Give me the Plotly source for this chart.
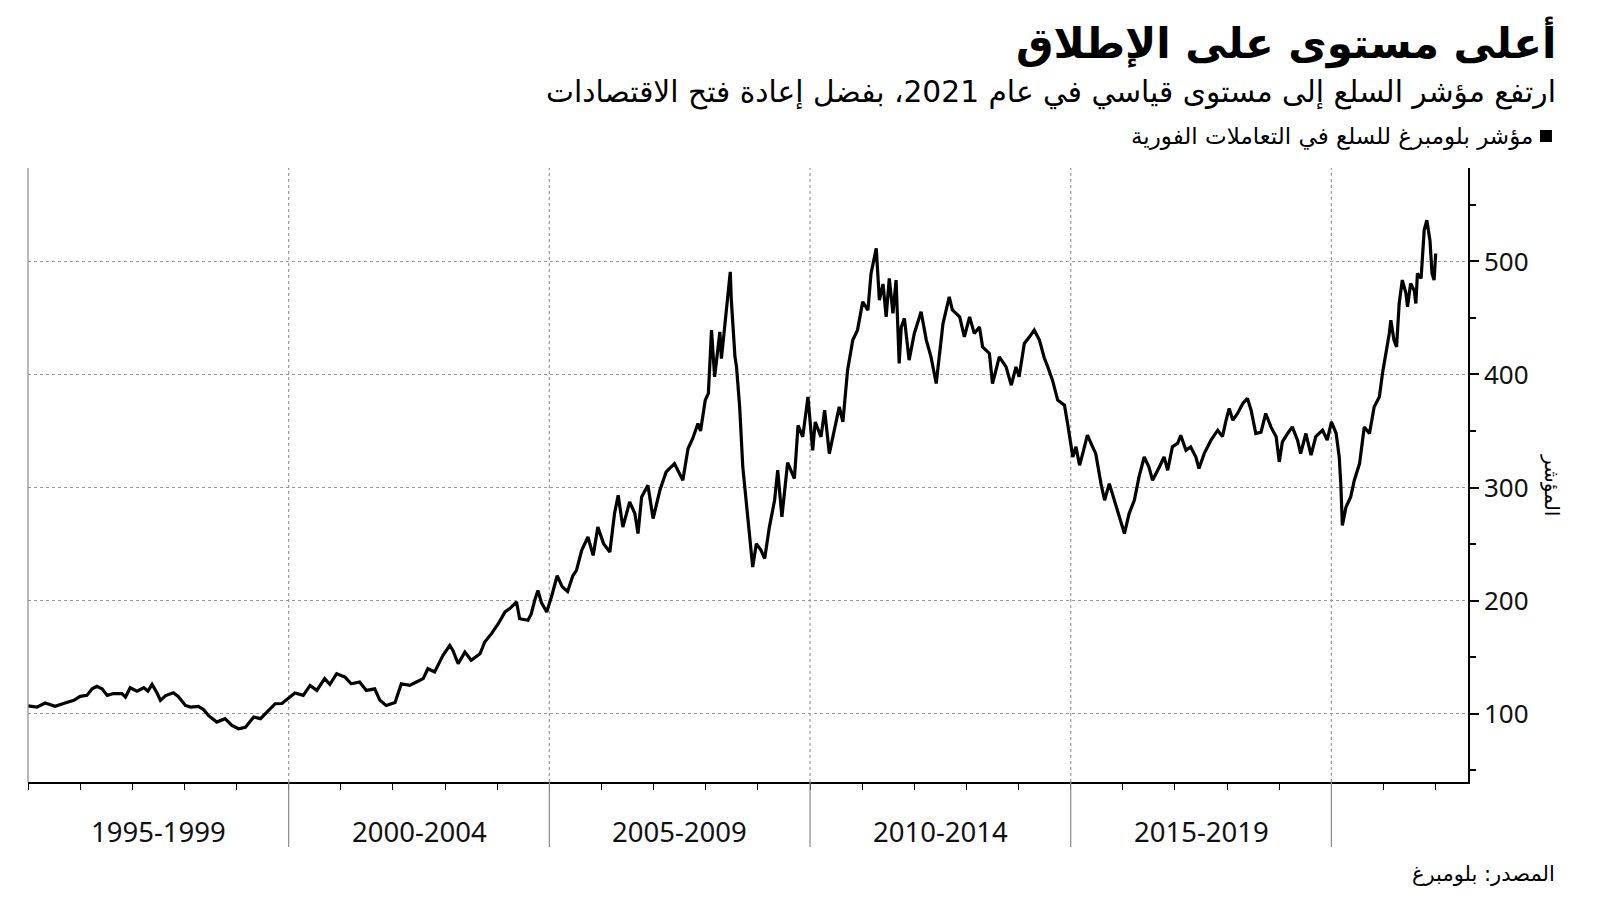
import plotly.graph_objects as go

# ---- data (decimal year, index value) ----
years = [
    1995.00, 1995.17, 1995.33, 1995.52, 1995.71, 1995.88, 1996.00, 1996.13, 1996.23, 1996.32,
    1996.42, 1996.52, 1996.64, 1996.80, 1996.87, 1996.96, 1997.09, 1997.22, 1997.30, 1997.38,
    1997.48, 1997.54, 1997.64, 1997.79, 1997.88, 1998.02, 1998.12, 1998.27, 1998.37, 1998.46,
    1998.62, 1998.78, 1998.91, 1999.04, 1999.17, 1999.33, 1999.46, 1999.61, 1999.74, 1999.87,
    1999.95, 2000.12, 2000.28, 2000.41, 2000.54, 2000.69, 2000.79, 2000.92, 2001.08, 2001.20,
    2001.36, 2001.49, 2001.65, 2001.75, 2001.87, 2002.04, 2002.16, 2002.32, 2002.45, 2002.58,
    2002.67, 2002.80, 2002.96, 2003.09, 2003.15, 2003.25, 2003.38, 2003.50, 2003.67, 2003.76,
    2003.89, 2004.02, 2004.15, 2004.24, 2004.37, 2004.43, 2004.59, 2004.65, 2004.72, 2004.78,
    2004.85, 2004.95, 2005.05, 2005.15, 2005.25, 2005.35, 2005.45, 2005.52, 2005.62, 2005.74,
    2005.84, 2005.93, 2006.04, 2006.16, 2006.25, 2006.32, 2006.41, 2006.54, 2006.64, 2006.70,
    2006.77, 2006.89, 2006.99, 2007.12, 2007.24, 2007.40, 2007.56, 2007.66, 2007.75, 2007.85,
    2007.90, 2007.99, 2008.05, 2008.11, 2008.17, 2008.27, 2008.30, 2008.37, 2008.44, 2008.47,
    2008.49, 2008.56, 2008.59, 2008.65, 2008.71, 2008.81, 2008.90, 2008.97, 2009.06, 2009.13,
    2009.22, 2009.32, 2009.38, 2009.46, 2009.57, 2009.70, 2009.77, 2009.86, 2009.96, 2010.05,
    2010.10, 2010.21, 2010.28, 2010.37, 2010.47, 2010.56, 2010.63, 2010.72, 2010.82, 2010.91,
    2011.01, 2011.11, 2011.17, 2011.27, 2011.33, 2011.40, 2011.46, 2011.52, 2011.59, 2011.65,
    2011.71, 2011.75, 2011.81, 2011.90, 2012.00, 2012.13, 2012.23, 2012.32, 2012.42, 2012.48,
    2012.55, 2012.67, 2012.73, 2012.87, 2012.96, 2013.06, 2013.15, 2013.25, 2013.31, 2013.44,
    2013.50, 2013.63, 2013.76, 2013.86, 2013.95, 2014.01, 2014.11, 2014.21, 2014.30, 2014.40,
    2014.49, 2014.56, 2014.65, 2014.75, 2014.88, 2014.94, 2015.04, 2015.10, 2015.17, 2015.23,
    2015.32, 2015.42, 2015.48, 2015.58, 2015.65, 2015.74, 2015.84, 2015.93, 2016.03, 2016.12,
    2016.22, 2016.31, 2016.41, 2016.50, 2016.57, 2016.70, 2016.79, 2016.86, 2016.95, 2017.05,
    2017.11, 2017.21, 2017.30, 2017.40, 2017.46, 2017.56, 2017.69, 2017.82, 2017.91, 2017.98,
    2018.04, 2018.11, 2018.20, 2018.30, 2018.39, 2018.46, 2018.55, 2018.65, 2018.74, 2018.84,
    2018.94, 2019.00, 2019.06, 2019.16, 2019.25, 2019.35, 2019.41, 2019.51, 2019.61, 2019.70,
    2019.83, 2019.92, 2020.00, 2020.09, 2020.15, 2020.18, 2020.21, 2020.28, 2020.37, 2020.44,
    2020.54, 2020.63, 2020.73, 2020.82, 2020.92, 2020.98, 2021.04, 2021.11, 2021.14, 2021.20,
    2021.25, 2021.30, 2021.36, 2021.43, 2021.46, 2021.52, 2021.59, 2021.62, 2021.65, 2021.72,
    2021.78, 2021.83, 2021.89, 2021.93, 2021.97, 2022.00,
]
index_values = [
    107.0, 105.8, 109.4, 106.5, 109.4, 111.8, 115.3, 116.2, 122.0, 124.2,
    122.0, 116.2, 117.8, 117.7, 114.7, 123.0, 120.0, 123.0, 120.0, 126.0,
    117.8, 111.8, 116.0, 118.5, 115.3, 107.3, 105.8, 106.5, 103.5, 98.5,
    92.6, 95.6, 89.6, 86.7, 88.0, 97.0, 95.6, 102.9, 108.8, 109.0,
    112.0, 118.3, 116.2, 125.0, 120.6, 131.0, 126.0, 135.4, 132.4, 126.5,
    128.0, 120.6, 122.0, 111.8, 107.3, 110.0, 126.5, 125.0, 128.0, 131.0,
    139.8, 137.0, 151.6, 160.4, 156.0, 144.2, 154.5, 147.2, 153.0, 163.4,
    170.8, 179.6, 190.0, 193.0, 198.8, 184.0, 182.6, 188.0, 200.3, 209.0,
    198.0, 190.0, 205.0, 222.0, 212.0, 208.0, 222.0, 226.8, 244.5, 256.3,
    240.0, 265.0, 250.4, 243.0, 277.0, 293.2, 265.0, 287.3, 277.0, 259.3,
    291.7, 302.0, 272.6, 297.6, 313.8, 321.2, 306.5, 334.5, 343.4, 356.6,
    350.0, 377.3, 383.2, 439.2, 397.9, 437.7, 414.0, 448.0, 474.6, 490.8,
    465.7, 415.6, 406.7, 371.3, 318.2, 274.0, 229.7, 250.4, 244.5, 237.2,
    265.0, 288.8, 315.3, 274.0, 322.0, 308.0, 355.0, 344.8, 380.2, 333.0,
    358.0, 344.8, 368.4, 330.0, 350.7, 371.3, 358.0, 403.8, 430.4, 439.2,
    464.2, 457.0, 489.4, 511.5, 465.7, 480.0, 451.0, 485.0, 454.0, 483.5,
    409.7, 442.0, 449.6, 412.7, 436.3, 455.4, 430.4, 415.6, 392.0, 418.6,
    445.0, 468.7, 457.0, 451.0, 433.3, 451.0, 436.3, 442.0, 424.4, 418.6,
    392.0, 415.6, 406.7, 390.5, 406.7, 398.0, 427.4, 433.3, 439.2, 430.4,
    415.0, 406.7, 395.0, 377.3, 372.8, 356.6, 327.0, 336.0, 319.7, 330.0,
    346.3, 336.0, 330.0, 303.5, 288.8, 303.5, 288.8, 274.0, 259.3, 277.0,
    288.8, 309.4, 327.0, 318.2, 306.5, 318.2, 327.0, 315.3, 336.0, 339.0,
    346.3, 333.0, 336.0, 327.0, 316.8, 330.0, 341.9, 350.7, 345.0, 359.6,
    369.9, 359.6, 365.5, 374.3, 378.8, 368.4, 347.8, 349.0, 365.5, 353.6,
    345.0, 322.7, 340.4, 347.8, 353.6, 341.9, 330.0, 347.8, 328.6, 345.0,
    350.7, 342.0, 358.0, 348.0, 327.0, 303.5, 266.6, 282.8, 291.7, 306.5,
    321.2, 353.6, 347.8, 371.3, 380.2, 401.0, 415.6, 436.3, 448.0, 430.4,
    424.4, 462.8, 483.5, 471.7, 459.8, 480.5, 474.0, 462.8, 489.4, 485.0,
    527.7, 536.5, 518.8, 489.4, 483.5, 507.0,
]

period_labels = ["1995-1999", "2000-2004", "2005-2009", "2010-2014", "2015-2019"]
period_centers = [1997.5, 2002.5, 2007.5, 2012.5, 2017.5]
period_bounds = [2000, 2005, 2010, 2015, 2020]
y_ticks = [100, 200, 300, 400, 500]

title_text = "أعلى مستوى على الإطلاق"
subtitle_text = "ارتفع مؤشر السلع إلى مستوى قياسي في عام 2021، بفضل إعادة فتح الاقتصادات"
legend_text = "مؤشر بلومبرغ للسلع في التعاملات الفورية"
source_text = "المصدر: بلومبرغ"
yaxis_title = "المؤشر"

AR_FONT = "DejaVu Sans"
NUM_FONT = "Noto Sans"

fig = go.Figure()
fig.add_trace(go.Scatter(
    x=years, y=index_values, mode="lines",
    line=dict(color="#000000", width=3.2),
    showlegend=False, hoverinfo="skip",
))

fig.update_layout(
    width=1600, height=901,
    margin=dict(l=20, r=140, t=160, b=127),
    paper_bgcolor="white", plot_bgcolor="white",
    xaxis=dict(
        range=[1995, 2022.62], showgrid=False, zeroline=False,
        tickvals=period_bounds, ticktext=[""] * len(period_bounds),
        ticks="", showline=True, linecolor="#000000", linewidth=1.5,
        minor=dict(dtick=1, tick0=1995, ticks="outside", ticklen=6,
                   tickcolor="#000000", tickwidth=1.2, showgrid=False),
    ),
    yaxis=dict(
        range=[39.6, 582.6], side="right", tickvals=y_ticks,
        showgrid=True, gridcolor="#9a9a9a", griddash="dot", gridwidth=1.2,
        zeroline=False, showline=True, linecolor="#000000", linewidth=1.5,
        ticks="outside", ticklen=9, tickcolor="#000000", tickwidth=1.5,
        tickfont=dict(family=NUM_FONT, size=26, color="#111111"),
        minor=dict(dtick=50, tick0=0, ticks="outside", ticklen=6,
                   tickcolor="#000000", showgrid=False),
    ),
)

shapes = []
# vertical dotted grid at period bounds + separators below the axis
for b in period_bounds:
    shapes.append(dict(type="line", xref="x", yref="paper", x0=b, x1=b, y0=0, y1=1,
                       line=dict(color="#9a9a9a", width=1.2, dash="dot"), layer="below"))
    shapes.append(dict(type="line", xref="x", yref="paper", x0=b, x1=b, y0=0, y1=-0.106,
                       line=dict(color="#8a8a8a", width=1.2)))
# left border
shapes.append(dict(type="line", xref="paper", yref="paper", x0=0, x1=0, y0=0, y1=1,
                   line=dict(color="#8a8a8a", width=1.2)))
# legend square
shapes.append(dict(type="rect", xref="paper", yref="paper", x0=1.0500, x1=1.0583,
                   y0=1.0423, y1=1.0619, fillcolor="#000000", line=dict(width=0)))
fig.update_layout(shapes=shapes)

ann = []
ann.append(dict(text="<b>" + title_text + "</b>", xref="paper", yref="paper", x=1.0625, y=1.2036,
                xanchor="right", yanchor="middle", showarrow=False,
                font=dict(family=AR_FONT, size=42, color="#000000")))
ann.append(dict(text=subtitle_text, xref="paper", yref="paper", x=1.0625, y=1.1238,
                xanchor="right", yanchor="middle", showarrow=False,
                font=dict(family=AR_FONT, size=29.7, color="#000000")))
ann.append(dict(text=legend_text, xref="paper", yref="paper", x=1.0462, y=1.0521,
                xanchor="right", yanchor="middle", showarrow=False,
                font=dict(family=AR_FONT, size=23, color="#000000")))
ann.append(dict(text=source_text, xref="paper", yref="paper", x=1.0617, y=-0.1498,
                xanchor="right", yanchor="middle", showarrow=False,
                font=dict(family=AR_FONT, size=21, color="#000000")))
ann.append(dict(text=yaxis_title, xref="paper", yref="paper", x=1.0583, y=0.4837,
                xanchor="center", yanchor="middle", showarrow=False, textangle=90,
                font=dict(family=AR_FONT, size=20, color="#000000")))
for lab, c in zip(period_labels, period_centers):
    ann.append(dict(text=lab, xref="x", yref="paper", x=c, y=-0.0814,
                    xanchor="center", yanchor="middle", showarrow=False,
                    font=dict(family=NUM_FONT, size=27.5, color="#111111")))
fig.update_layout(annotations=ann)

fig.write_html("out.html")
